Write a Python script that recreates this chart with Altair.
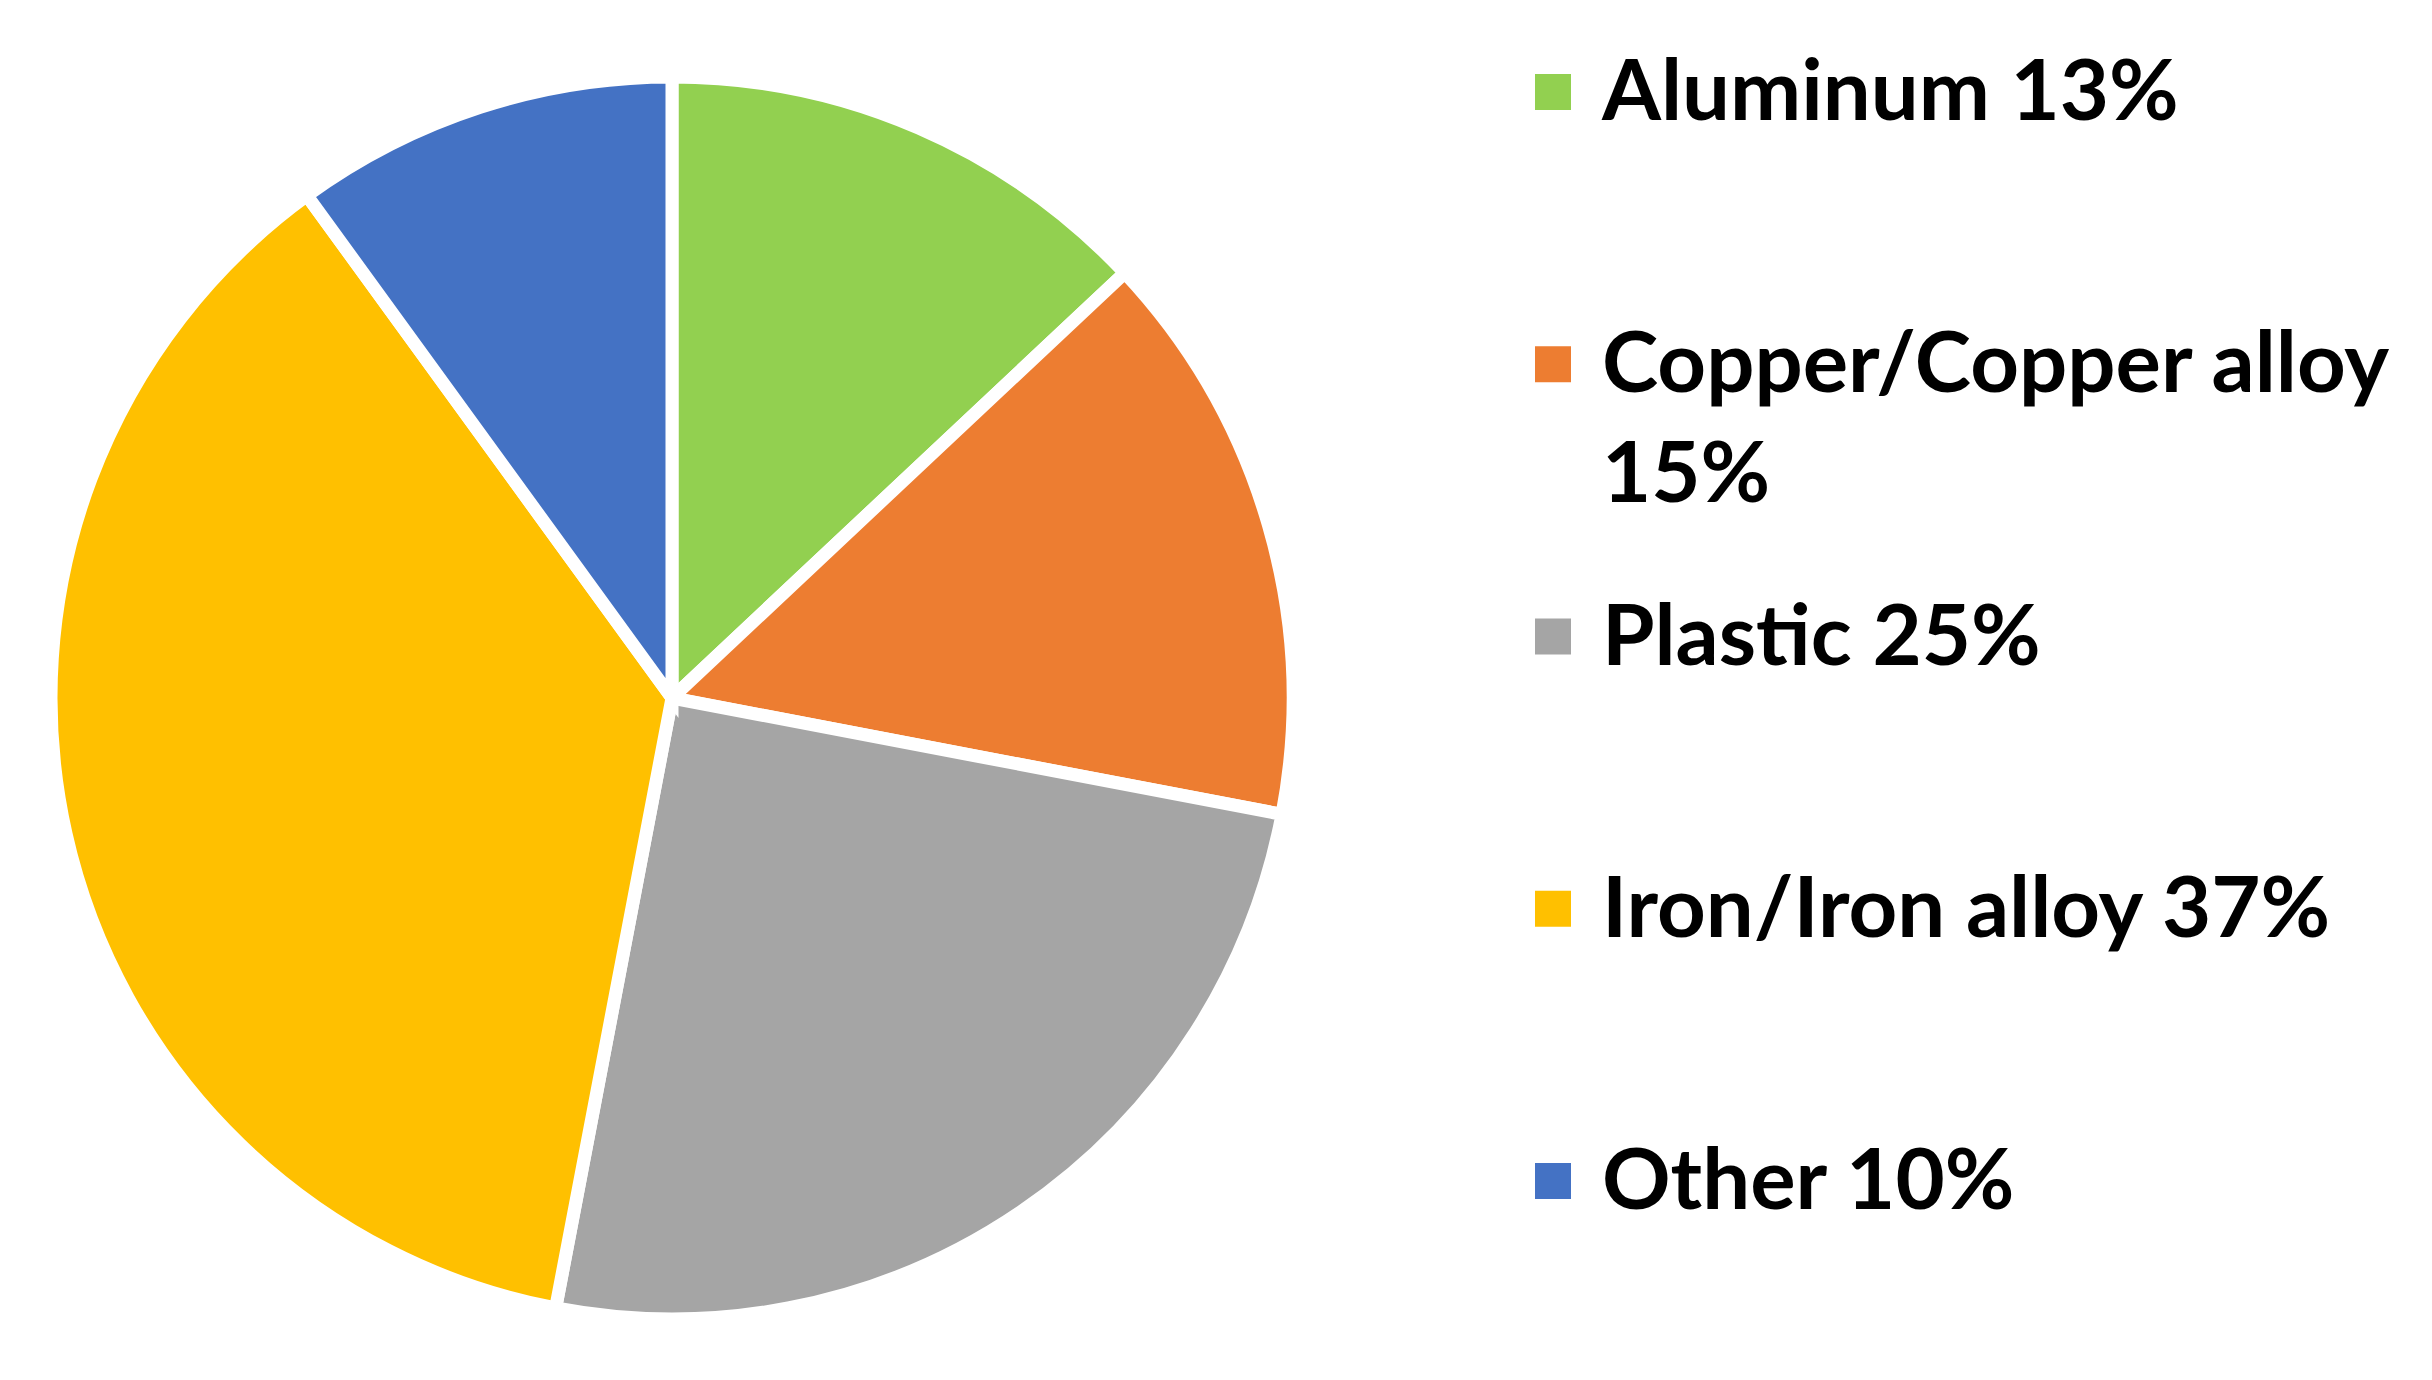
import altair as alt
import pandas as pd

categories = ["Aluminum", "Copper/Copper alloy", "Plastic", "Iron/Iron alloy", "Other"]
percents = [13, 15, 25, 37, 10]
label_texts = ["Aluminum 13%", "Copper/Copper alloy\n15%", "Plastic 25%", "Iron/Iron alloy 37%", "Other 10%"]
colors = ["#92D050", "#ED7D31", "#A5A5A5", "#FFC000", "#4472C4"]

df = pd.DataFrame({
    "category": categories,
    "value": percents,
    "label": label_texts,
    "idx": list(range(len(categories))),
})

color_scale = alt.Scale(domain=categories, range=colors)

pie = alt.Chart(df).mark_arc(
    outerRadius=621, stroke="white", strokeWidth=13
).encode(
    theta=alt.Theta("value:Q", stack=True),
    order=alt.Order("idx:Q"),
    color=alt.Color("category:N", scale=color_scale, legend=None),
    x=alt.value(664),
    y=alt.value(690),
)

yscale = alt.Scale(domain=[0, 4], range=[84, 1173])

markers = alt.Chart(df).mark_square(size=1296, opacity=1).encode(
    x=alt.value(1545),
    y=alt.Y("idx:Q", scale=yscale, axis=None),
    color=alt.Color("category:N", scale=color_scale, legend=None),
)

texts = alt.Chart(df).mark_text(
    align="left", baseline="alphabetic", dy=28, font="Lato", fontWeight="bold",
    fontSize=85, lineBreak="\n", lineHeight=110, color="black"
).encode(
    x=alt.value(1594),
    y=alt.Y("idx:Q", scale=yscale, axis=None),
    text="label:N",
)

chart = alt.layer(pie, markers, texts).properties(
    width=2416, height=1364,
    autosize=alt.AutoSizeParams(type="none"),
    padding=0,
).configure_view(stroke=None)

chart.save("out.html", embed_options={"renderer": "svg", "actions": False})
